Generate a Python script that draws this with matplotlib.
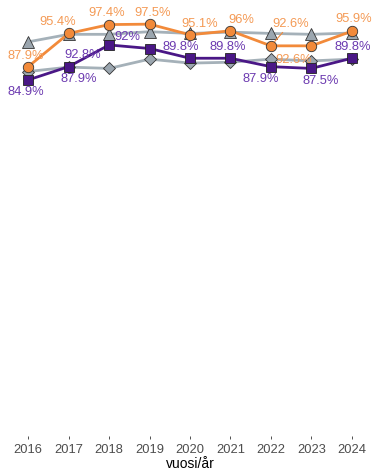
import matplotlib
matplotlib.use("Agg")
import matplotlib.pyplot as plt

plt.rcParams['font.family'] = ['Liberation Sans', 'DejaVu Sans']

years = [2016, 2017, 2018, 2019, 2020, 2021, 2022, 2023, 2024]
orange_vals = [87.9, 95.4, 97.4, 97.5, 95.1, 96.0, 92.6, 92.6, 95.9]
purple_vals = [84.9, 87.9, 92.8, 92.0, 89.8, 89.8, 87.9, 87.5, 89.8]
tri_vals = [93.5, 95.2, 95.2, 95.8, 95.4, 95.7, 95.4, 95.2, 95.5]
dia_vals = [86.8, 87.8, 87.5, 89.6, 88.7, 88.9, 89.6, 89.2, 89.6]

# label offsets in points (ggrepel-like placement)
orange_off = [(-2, 8), (-8, 8), (-2, 8), (2, 8), (7, 8), (8, 8), (14, 16), (-13, -10), (1, 9)]
purple_off = [(-2, -9), (7, -9), (-19, -7), (-16, 8), (-7, 8), (-2, 8), (-7, -9), (7, -9), (1, 8)]

c_orange = '#F28A3A'
c_orange_txt = '#F49A55'
c_purple = '#4A1786'
c_purple_txt = '#6C3AB0'
c_gray = '#A5B1B9'

fig = plt.figure(figsize=(3.73, 4.74), dpi=100)
ax = fig.add_axes([12 / 373, 38 / 474, 356 / 373, 434 / 474])

ax.plot(years, tri_vals, color=c_gray, lw=2, marker='^', ms=9,
        mfc='#9BA6AF', mec='#333333', mew=0.6, zorder=2)
ax.plot(years, dia_vals, color=c_gray, lw=2, marker='D', ms=6.5,
        mfc='#9BA6AF', mec='#333333', mew=0.6, zorder=2)
ax.plot(years, orange_vals, color=c_orange, lw=2, marker='o', ms=7.5,
        mfc=c_orange, mec='#333333', mew=0.6, zorder=3)
ax.plot(years, purple_vals, color=c_purple, lw=2, marker='s', ms=6.5,
        mfc=c_purple, mec='#222222', mew=0.6, zorder=3)

def fmt(v):
    return ('%g' % v) + '%'

for x, y, (dx, dy) in zip(years, orange_vals, orange_off):
    arrow = None
    if abs(dx) > 10 and dy > 12:
        arrow = dict(arrowstyle='-', color=c_orange, lw=0.8, shrinkA=0, shrinkB=4)
    ax.annotate(fmt(y), (x, y), xytext=(dx, dy), textcoords='offset points',
                ha='center', va='center', color=c_orange_txt, fontsize=9.3,
                arrowprops=arrow, zorder=4)

for x, y, (dx, dy) in zip(years, purple_vals, purple_off):
    ax.annotate(fmt(y), (x, y), xytext=(dx, dy), textcoords='offset points',
                ha='center', va='center', color=c_purple_txt, fontsize=9.3, zorder=4)

ax.set_xlim(2015.6, 2024.4)
ax.set_ylim(4.5, 102.5)
ax.set_xticks(years)
ax.set_xticklabels([str(y) for y in years], fontsize=9.3, color='#4D4D4D')
ax.set_yticks([])
ax.tick_params(axis='x', length=2.5, width=0.6, color='#333333', pad=3)
for s in ax.spines.values():
    s.set_visible(False)
ax.set_xlabel('vuosi/år', fontsize=10, labelpad=1)

fig.savefig('out.png', dpi=100)
